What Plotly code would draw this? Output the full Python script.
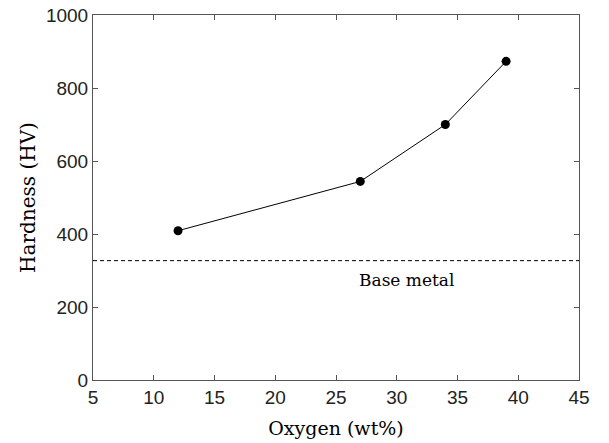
import plotly.graph_objects as go

oxygen = [12, 27, 34, 39]
hardness = [409, 544, 700, 873]
base_metal = 327
base_label = "Base metal"
x_ticks = [5, 10, 15, 20, 25, 30, 35, 40, 45]
y_ticks = [0, 200, 400, 600, 800, 1000]

SERIF = "DejaVu Serif"
fig = go.Figure()
fig.add_trace(go.Scatter(x=[5, 45], y=[base_metal, base_metal], mode="lines",
                         line=dict(color="black", width=1, dash="4px,3px"), showlegend=False))
fig.add_trace(go.Scatter(x=oxygen, y=hardness, mode="lines+markers",
                         line=dict(color="black", width=1),
                         marker=dict(color="black", size=9), showlegend=False))
fig.add_annotation(x=30.8, y=274, text=base_label, showarrow=False,
                   font=dict(family=SERIF, size=17, color="black"))

axis_common = dict(showline=True, linecolor="#555", linewidth=1, mirror="ticks",
                   ticks="inside", ticklen=5, tickcolor="#555", showgrid=False, zeroline=False,
                   automargin=False, ticklabeloverflow="allow",
                   tickfont=dict(family="Liberation Sans", size=19, color="#222"))
fig.update_xaxes(range=[5, 45], tickvals=x_ticks,
                 title=dict(text="Oxygen (wt%)", font=dict(family=SERIF, size=19, color="black"), standoff=14),
                 **axis_common)
fig.update_yaxes(range=[0, 1000], tickvals=y_ticks,
                 title=dict(text="Hardness (HV)", font=dict(family=SERIF, size=20, color="black"), standoff=4),
                 **axis_common)
fig.update_layout(width=609, height=443, margin=dict(l=93, r=30, t=15, b=63),
                  plot_bgcolor="white", paper_bgcolor="white")
fig.write_html("out.html", config={"displayModeBar": False},
               post_script="document.body.style.margin='0';")
